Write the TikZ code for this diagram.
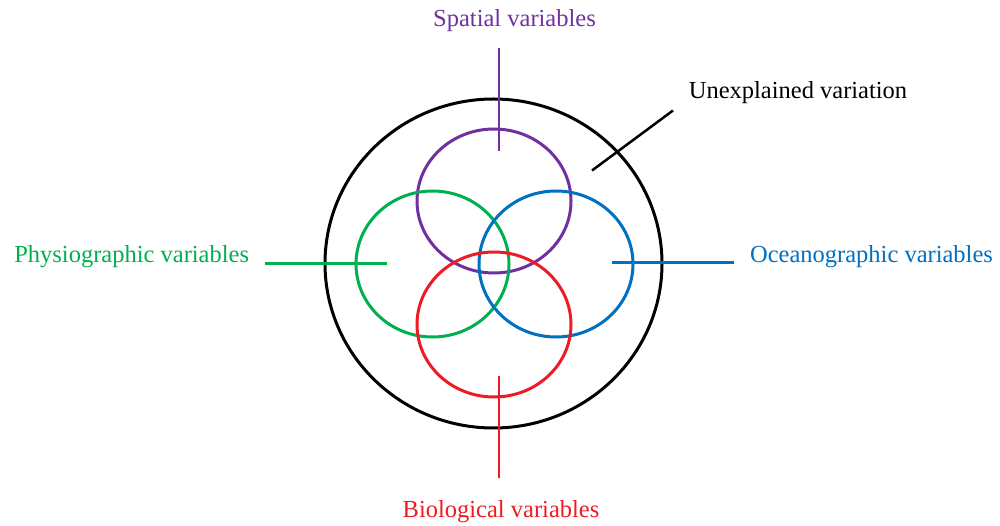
\documentclass[tikz,border=0pt]{standalone}
\usepackage{fontspec}
\setmainfont{Liberation Serif}
\usetikzlibrary{shapes.geometric}
\definecolor{cpurple}{RGB}{112,48,160}
\definecolor{cgreen}{RGB}{0,176,80}
\definecolor{cblue}{RGB}{0,112,192}
\definecolor{cred}{RGB}{237,28,36}
\begin{document}
\begin{tikzpicture}[x=1pt,y=-1pt,
  lbl/.style={inner sep=0pt, anchor=base, font=\fontsize{24.5}{28}\selectfont},
  ring/.style={ellipse, draw, line width=3pt, inner sep=0pt, outer sep=0pt, fill=none},
  lead/.style={line width=2.5pt}]
\useasboundingbox (0,0) rectangle (1000,526);
% rings
\node[ring, black, minimum width=337pt, minimum height=329pt] (outer) at (493.5,263.5) {};
\node[ring, cpurple, minimum width=154pt, minimum height=144pt] (spat) at (494,201) {};
\node[ring, cgreen, minimum width=153pt, minimum height=146pt] (phys) at (432.5,264) {};
\node[ring, cblue, minimum width=154pt, minimum height=146pt] (ocea) at (556,264) {};
\node[ring, cred, minimum width=154pt, minimum height=145pt] (biol) at (494,324.5) {};
% labels
\node[lbl, text=cpurple] (tspat) at (514.5,27) {Spatial variables};
\node[lbl, text=black] (tunex) at (798,98.5) {Unexplained variation};
\node[lbl, text=cgreen] (tphys) at (131.7,263) {Physiographic variables};
\node[lbl, text=cblue] (tocea) at (871.5,263) {Oceanographic variables};
\node[lbl, text=cred] (tbiol) at (501,517) {Biological variables};
% leader line ends
\coordinate (s1) at (499,48);  \coordinate (s2) at (499,151);
\coordinate (u1) at (673,110.5); \coordinate (u2) at (592,170.5);
\coordinate (p1) at (265,263.3); \coordinate (p2) at (387,263.3);
\coordinate (o1) at (612,262.7); \coordinate (o2) at (734,262.7);
\coordinate (b1) at (499,376); \coordinate (b2) at (499,478);
\draw[lead, cpurple] (s1) -- (s2);
\draw[lead, black] (u1) -- (u2);
\draw[lead, cgreen] (p1) -- (p2);
\draw[lead, cblue, line width=3.5pt] (o1) -- (o2);
\draw[lead, cred] (b1) -- (b2);
\end{tikzpicture}
\end{document}
